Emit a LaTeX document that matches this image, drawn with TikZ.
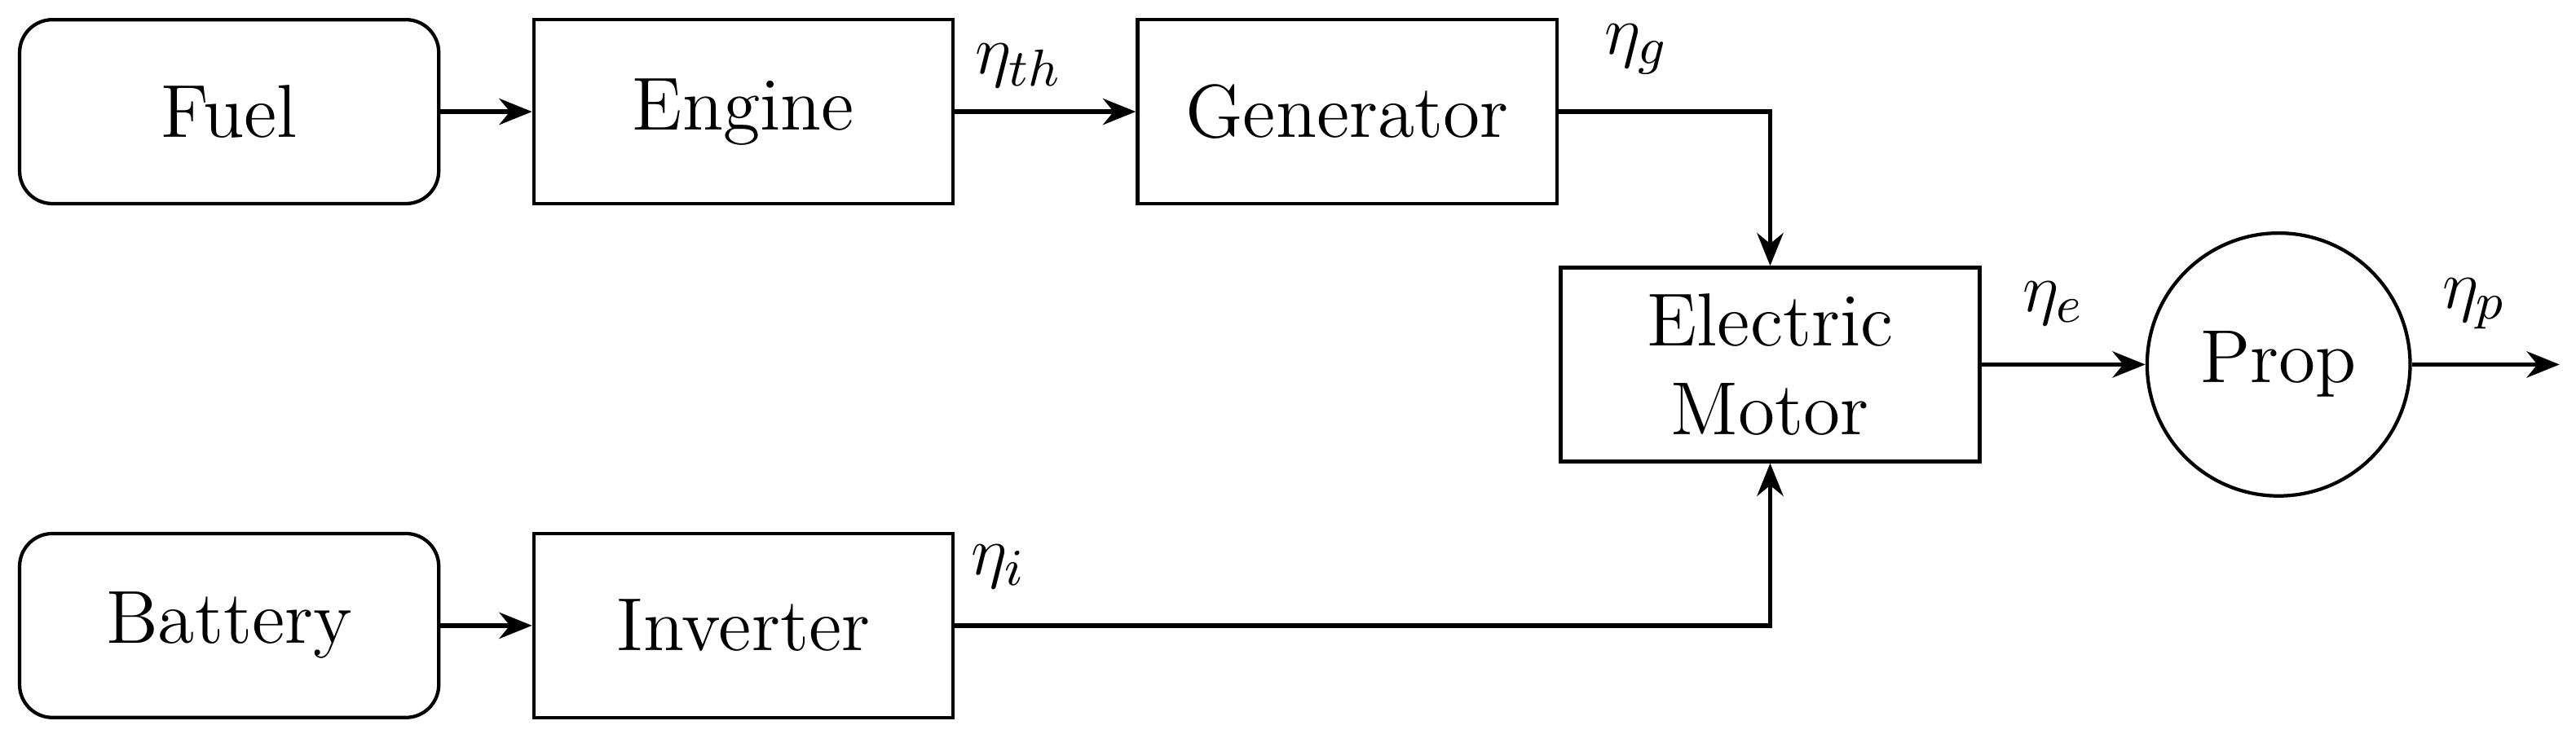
\documentclass[tikz,border=0pt]{standalone}
\usetikzlibrary{arrows.meta}
\begin{document}
\begin{tikzpicture}[x=0.01cm,y=-0.01cm,
  box/.style={draw,line width=0.6pt,minimum width=2.55cm,minimum height=1.12cm,font=\fontsize{13}{15.5}\selectfont,align=center},
  rbox/.style={box,rounded corners=0.2cm},
  lab/.style={font=\fontsize{13}{15.5}\selectfont},
  arr/.style={line width=0.8pt,-{Stealth[length=2mm,width=1.6mm]}}]
\useasboundingbox (0,0) rectangle (1568,447);
\node[rbox] (fuel) at (139.5,68) {Fuel};
\node[box] (eng) at (452.5,68) {Engine};
\node[box] (gen) at (820,68) {Generator};
\node[box,minimum height=1.18cm] (mot) at (1077.5,222) {Electric\\Motor};
\node[draw,circle,line width=0.6pt,minimum size=1.6cm,font=\fontsize{13}{15.5}\selectfont] (prop) at (1387,222) {Prop};
\node[rbox] (bat) at (139.5,381) {Battery};
\node[box] (inv) at (452.5,381) {Inverter};
\coordinate (out) at (1558,222);
\draw[arr] (fuel) -- (eng);
\draw[arr] (bat) -- (inv);
\draw[arr] (eng) -- (gen);
\draw[arr] (gen.east) -| (mot.north);
\draw[arr] (inv.east) -| (mot.south);
\draw[arr] (mot) -- (prop);
\draw[arr] (prop) -- (out);
\node[lab] (lth) at (620,40) {$\eta_{th}$};
\node[lab] (lg) at (996,30) {$\eta_g$};
\node[lab] (le) at (1250,185) {$\eta_e$};
\node[lab] (lp) at (1506,185) {$\eta_p$};
\node[lab] (li) at (608,345) {$\eta_i$};
\end{tikzpicture}
\end{document}
